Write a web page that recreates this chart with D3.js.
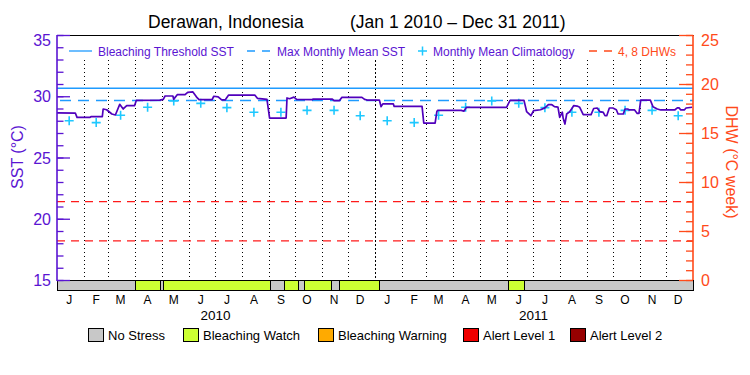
<!DOCTYPE html>
<html><head><meta charset="utf-8">
<script src="https://cdn.jsdelivr.net/npm/d3@7"></script>
<style>
body{margin:0;background:#fff}
svg{display:block}
text{font-family:"Liberation Sans",Arial,sans-serif}
</style>
</head><body>
<svg id="c" width="750" height="375"></svg>
<script>
// ---------------- DATA ----------------
const titleLeft = "Derawan, Indonesia";
const titleRight = "(Jan 1 2010 \u2013 Dec 31 2011)";

const sstDates = [
"2010-01-01","2010-01-22","2010-01-24","2010-02-08","2010-02-09","2010-02-22","2010-02-23","2010-02-27",
"2010-03-05","2010-03-09","2010-03-11","2010-03-14","2010-03-18","2010-03-22","2010-03-31","2010-04-02",
"2010-04-29","2010-05-03","2010-05-05","2010-05-14","2010-05-15","2010-05-19","2010-05-28","2010-05-31",
"2010-06-06","2010-06-10","2010-06-13","2010-06-28","2010-06-30","2010-07-05","2010-07-09","2010-07-13",
"2010-07-17","2010-08-16","2010-08-19","2010-08-30","2010-09-02","2010-09-21","2010-09-22","2010-09-25",
"2010-09-30","2010-10-03","2010-10-21","2010-10-22","2010-11-13","2010-11-15","2010-11-21","2010-11-24",
"2010-12-17","2010-12-20","2010-12-23","2011-01-06","2011-01-08","2011-01-10","2011-01-22","2011-01-23",
"2011-02-24","2011-02-26","2011-03-11","2011-03-13","2011-03-14","2011-04-10","2011-04-13","2011-04-16",
"2011-06-01","2011-06-05","2011-06-21","2011-06-24","2011-06-29","2011-07-02","2011-07-10","2011-07-15",
"2011-07-19","2011-07-23","2011-07-26","2011-07-30","2011-08-01","2011-08-04","2011-08-05","2011-08-07",
"2011-08-09","2011-08-12","2011-08-15","2011-08-17","2011-08-21","2011-08-24","2011-08-28","2011-09-06",
"2011-09-09","2011-09-13","2011-09-16","2011-09-20","2011-09-22","2011-09-24","2011-09-27","2011-10-01",
"2011-10-05","2011-10-07","2011-10-13","2011-10-15","2011-10-18","2011-10-20","2011-10-26","2011-10-29",
"2011-10-31","2011-11-02","2011-11-13","2011-11-16","2011-11-21","2011-11-25","2011-12-11","2011-12-14",
"2011-12-16","2011-12-18","2011-12-22","2011-12-24","2011-12-31"];
const sstValues = [
28.65,28.63,28.28,28.28,28.33,28.33,28.96,28.9,
28.55,28.47,28.82,29.34,28.96,29.23,29.23,29.66,
29.69,29.75,30.02,30.02,29.75,30.13,30.13,30.32,
30.35,29.95,29.72,29.72,30.0,29.95,29.7,29.7,
30.1,30.1,29.83,29.75,28.22,28.22,29.86,29.8,
29.93,29.75,29.72,29.77,29.77,29.64,29.64,29.91,
29.91,29.75,29.69,29.69,29.15,29.38,29.38,29.17,
29.17,27.8,27.8,28.75,28.85,28.85,28.78,29.1,
29.1,29.66,29.66,28.75,28.41,28.82,28.9,29.05,
29.31,29.31,29.15,29.12,28.28,28.7,28.2,27.73,
28.55,28.7,29.0,29.23,29.2,29.1,28.5,28.5,
29.0,29.04,28.75,28.69,28.41,28.41,29.04,29.04,
28.9,28.55,28.55,28.96,28.96,28.88,28.88,28.6,
28.6,29.69,29.69,29.15,28.96,28.88,28.88,29.05,
29.05,28.88,28.88,29.04,29.1];

const climYears = [2010, 2011];
const climValues = [28.0,27.85,28.45,29.1,29.62,29.42,29.07,28.69,28.69,28.85,28.85,28.41];

const bleachingThreshold = 30.65;
const maxMonthlyMean = 29.65;
const dhwThresholds = [4, 8];

const stressBounds = ["2010-01-01","2010-03-31","2010-04-29","2010-05-03","2010-09-02","2010-09-19",
  "2010-10-05","2010-10-11","2010-11-11","2010-11-21","2011-01-06","2011-06-03","2011-06-21","2012-01-01"];
const stressLevels = [0,1,0,1,0,1,0,1,0,1,0,1,0];

const stressNames = ["No Stress","Bleaching Watch","Bleaching Warning","Alert Level 1","Alert Level 2"];
const stressColors = ["#c8c8c8","#ccff33","#ffaa00","#f00000","#960000"];

const sstTicks = [15,20,25,30,35];
const dhwTicks = [0,5,10,15,20,25];
const monthLabels = ["J","F","M","A","M","J","J","A","S","O","N","D"];
const yearLabels = ["2010","2011"];

// ---------------- STYLE ----------------
const PURPLE = "#5a14d2", LINEP = "#5000bc", BLUE = "#1e9bff", CYAN = "#1ec8ff",
      ORANGE = "#ff4a1a", RED = "#ff1a1a";

const parse = d3.timeParse("%Y-%m-%d");
const svg = d3.select("#c");
const L = 57, R = 693, T = 35, B = 280;

const x = d3.scaleTime().domain([new Date(2010,0,1), new Date(2012,0,1)]).range([L, R]);
const ySST = d3.scaleLinear().domain([15,35]).range([B, T]);
const yDHW = d3.scaleLinear().domain([0,25]).range([B, T]);

// title
svg.append("text").attr("x",148).attr("y",28).attr("font-size",17.5).attr("fill","#000").text(titleLeft);
svg.append("text").attr("x",350).attr("y",28).attr("font-size",17.5).attr("fill","#000").text(titleRight);

// month dotted lines
const monthStarts = d3.timeMonth.range(new Date(2010,1,1), new Date(2012,0,1));
svg.append("g").selectAll("line").data(monthStarts).join("line")
  .attr("x1", d => Math.round(x(d))+0.5).attr("x2", d => Math.round(x(d))+0.5)
  .attr("y1", 60).attr("y2", B)
  .attr("stroke","#000").attr("stroke-width",1)
  .attr("stroke-dasharray", d => d.getMonth()===0 ? "2,2" : "1,3");

// DHW threshold lines
svg.append("g").selectAll("line").data(dhwThresholds).join("line")
  .attr("x1",L).attr("x2",R).attr("y1",d=>yDHW(d)).attr("y2",d=>yDHW(d))
  .attr("stroke",RED).attr("stroke-width",1.2).attr("stroke-dasharray","8,6");

// threshold & MMM
svg.append("line").attr("x1",L).attr("x2",R).attr("y1",ySST(bleachingThreshold)).attr("y2",ySST(bleachingThreshold))
  .attr("stroke",BLUE).attr("stroke-width",1.6);
svg.append("line").attr("x1",L+3).attr("x2",R).attr("y1",ySST(maxMonthlyMean)).attr("y2",ySST(maxMonthlyMean))
  .attr("stroke",BLUE).attr("stroke-width",1.6).attr("stroke-dasharray","11,7");

// climatology crosses
const clim = [];
climYears.forEach(yr => climValues.forEach((v,i) => clim.push({d:new Date(yr,i,15), v})));
svg.append("g").selectAll("path").data(clim).join("path")
  .attr("transform", d => `translate(${x(d.d)},${ySST(d.v)})`)
  .attr("d","M-4.5,0H4.5M0,-4.5V4.5")
  .attr("stroke",CYAN).attr("stroke-width",1.6).attr("fill","none");

// SST line
const sst = sstDates.map((d,i)=>({d:parse(d), v:sstValues[i]}));
svg.append("path").datum(sst)
  .attr("d", d3.line().x(d=>x(d.d)).y(d=>ySST(d.v)))
  .attr("fill","none").attr("stroke",LINEP).attr("stroke-width",1.7).attr("stroke-linejoin","round");

// stress bar
const segs = stressLevels.map((lv,i)=>({a:parse(stressBounds[i]), b:parse(stressBounds[i+1]), lv}));
svg.append("g").selectAll("rect").data(segs).join("rect")
  .attr("x", d=>Math.round(x(d.a))+0.5).attr("width", d=>Math.round(x(d.b))-Math.round(x(d.a)))
  .attr("y", B+0.5).attr("height", 10)
  .attr("fill", d=>stressColors[d.lv]).attr("stroke","#000").attr("stroke-width",1);

// frame top
svg.append("line").attr("x1",L).attr("x2",R+1).attr("y1",T+0.5).attr("y2",T+0.5).attr("stroke","#000").attr("stroke-width",1.2);

// left axis
const gl = svg.append("g").attr("transform",`translate(${L},0)`);
gl.call(d3.axisRight(ySST).tickValues(d3.range(15,36)).tickSize(6.5).tickFormat(""));
gl.append("g").call(d3.axisRight(ySST).tickValues(sstTicks).tickSize(13).tickFormat(""));
gl.selectAll(".domain").remove();
gl.selectAll("line").attr("stroke",PURPLE).attr("stroke-width",1.3);
svg.append("line").attr("x1",L).attr("x2",L).attr("y1",T).attr("y2",B+1).attr("stroke",PURPLE).attr("stroke-width",1.6);
svg.append("g").selectAll("text").data(sstTicks).join("text")
  .attr("x",51).attr("y",d=>Math.max(ySST(d)+6, T+11)).attr("text-anchor","end")
  .attr("font-size",16).attr("fill",PURPLE).text(d=>d);
svg.append("text").attr("transform","translate(23,157) rotate(-90)").attr("text-anchor","middle")
  .attr("font-size",16).attr("fill",PURPLE).text("SST (\u00B0C)");

// right axis
const gr = svg.append("g").attr("transform",`translate(${R},0)`);
gr.call(d3.axisLeft(yDHW).tickValues(d3.range(0,26)).tickSize(7).tickFormat(""));
gr.append("g").call(d3.axisLeft(yDHW).tickValues(dhwTicks).tickSize(14).tickFormat(""));
gr.selectAll(".domain").remove();
gr.selectAll("line").attr("stroke",ORANGE).attr("stroke-width",1.3);
svg.append("line").attr("x1",R).attr("x2",R).attr("y1",T).attr("y2",B).attr("stroke",ORANGE).attr("stroke-width",1.6);
svg.append("g").selectAll("text").data(dhwTicks).join("text")
  .attr("x",701).attr("y",d=>Math.max(yDHW(d)+6, T+11)).attr("text-anchor","start")
  .attr("font-size",16).attr("fill",ORANGE).text(d=>d);
svg.append("text").attr("transform","translate(726,162) rotate(90)").attr("text-anchor","middle")
  .attr("font-size",16).attr("fill",ORANGE).text("DHW (\u00B0C week)");

// month labels & years
const mids = [];
[2010,2011].forEach(yr => monthLabels.forEach((m,i)=>mids.push({d:new Date(yr,i,15), m})));
svg.append("g").selectAll("text").data(mids).join("text")
  .attr("x", d=>x(d.d)).attr("y",304).attr("text-anchor","middle")
  .attr("font-size",12).attr("fill","#000").text(d=>d.m);
svg.append("g").selectAll("text").data(yearLabels).join("text")
  .attr("x", d=>x(new Date(+d,6,2))).attr("y",320).attr("text-anchor","middle")
  .attr("font-size",13.5).attr("fill","#000").text(d=>d);

// top legend
const lg = svg.append("g");
lg.append("line").attr("x1",69).attr("x2",92).attr("y1",51).attr("y2",51).attr("stroke",BLUE).attr("stroke-width",1.3);
lg.append("text").attr("x",98).attr("y",55.5).attr("font-size",12).attr("fill",PURPLE).text("Bleaching Threshold SST");
lg.append("line").attr("x1",247).attr("x2",270).attr("y1",51).attr("y2",51).attr("stroke",BLUE).attr("stroke-width",1.3).attr("stroke-dasharray","8,7");
lg.append("text").attr("x",277).attr("y",55.5).attr("font-size",12).attr("fill",PURPLE).text("Max Monthly Mean SST");
lg.append("path").attr("transform","translate(422.5,51)").attr("d","M-4.5,0H4.5M0,-4.5V4.5").attr("stroke",CYAN).attr("stroke-width",1.5);
lg.append("text").attr("x",433).attr("y",55.5).attr("font-size",12).attr("fill",PURPLE).text("Monthly Mean Climatology");
lg.append("line").attr("x1",589).attr("x2",612).attr("y1",51).attr("y2",51).attr("stroke",ORANGE).attr("stroke-width",1.3).attr("stroke-dasharray","8,7");
lg.append("text").attr("x",618).attr("y",55.5).attr("font-size",12).attr("fill",ORANGE).text("4, 8 DHWs");

// bottom legend
const boxX = [88,183,318,463,570];
const bl = svg.append("g").selectAll("g").data(stressNames).join("g");
bl.append("rect").attr("x",(d,i)=>boxX[i]+0.5).attr("y",328.5).attr("width",15).attr("height",13)
  .attr("fill",(d,i)=>stressColors[i]).attr("stroke","#000").attr("stroke-width",1);
bl.append("text").attr("x",(d,i)=>boxX[i]+20).attr("y",340).attr("font-size",13).attr("fill","#000").text(d=>d);
</script>
</body></html>
